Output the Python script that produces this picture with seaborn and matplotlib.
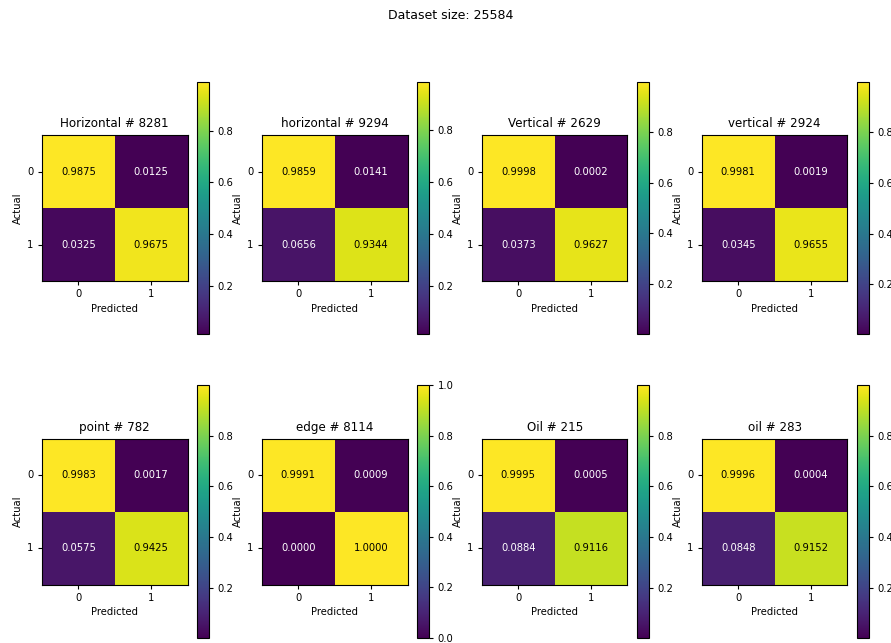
import numpy as np
import matplotlib
matplotlib.use("Agg")
import matplotlib.pyplot as plt
import seaborn as sns

# Row-normalised confusion matrices per class (rows: actual, cols: predicted)
titles = ["Horizontal # 8281", "horizontal # 9294", "Vertical # 2629", "vertical # 2924",
          "point # 782", "edge # 8114", "Oil # 215", "oil # 283"]
horizontal_upper = [[0.9875, 0.0125], [0.0325, 0.9675]]
horizontal_lower = [[0.9859, 0.0141], [0.0656, 0.9344]]
vertical_upper = [[0.9998, 0.0002], [0.0373, 0.9627]]
vertical_lower = [[0.9981, 0.0019], [0.0345, 0.9655]]
point = [[0.9983, 0.0017], [0.0575, 0.9425]]
edge = [[0.9991, 0.0009], [0.0000, 1.0000]]
oil_upper = [[0.9995, 0.0005], [0.0884, 0.9116]]
oil_lower = [[0.9996, 0.0004], [0.0848, 0.9152]]
matrices = [horizontal_upper, horizontal_lower, vertical_upper, vertical_lower,
            point, edge, oil_upper, oil_lower]
class_labels = ["0", "1"]
dataset_size = 25584

fig, axes = plt.subplots(2, 4, figsize=(8.91, 6.43), dpi=100)
fig.subplots_adjust(left=0.0471, right=0.992, top=0.8725, bottom=0.0078,
                    wspace=0.209, hspace=0.202)

for ax, title, mat in zip(axes.flat, titles, matrices):
    m = np.array(mat)
    sns.heatmap(m, ax=ax, cmap="viridis", square=True, annot=False, cbar=True,
                xticklabels=class_labels, yticklabels=class_labels)
    vmin, vmax = m.min(), m.max()
    for i in range(2):
        for j in range(2):
            frac = (m[i, j] - vmin) / (vmax - vmin)
            color = "black" if frac > 0.5 else "white"
            ax.text(j + 0.5, i + 0.5, f"{m[i, j]:.4f}", ha="center", va="center",
                    color=color, fontsize=7.2)
    for sp in ax.spines.values():
        sp.set_visible(True)
        sp.set_linewidth(0.8)
        sp.set_color("black")
    ax.set_title(title, fontsize=8.6)
    ax.set_xlabel("Predicted", fontsize=7.2, labelpad=3)
    ax.set_ylabel("Actual", fontsize=7.2, labelpad=3)
    ax.tick_params(labelsize=7.2, length=3, width=0.8, pad=3)
    ax.set_yticklabels(class_labels, rotation=0)
    ax.set_xticklabels(class_labels, rotation=0)
    cbar = ax.collections[0].colorbar
    cbar.ax.tick_params(labelsize=7.2, length=3, width=0.8, pad=3)
    cbar.outline.set_visible(True)
    cbar.outline.set_linewidth(0.8)

fig.suptitle(f"Dataset size: {dataset_size}", x=0.506, y=0.986, fontsize=9)
fig.savefig("out.png", dpi=100)
